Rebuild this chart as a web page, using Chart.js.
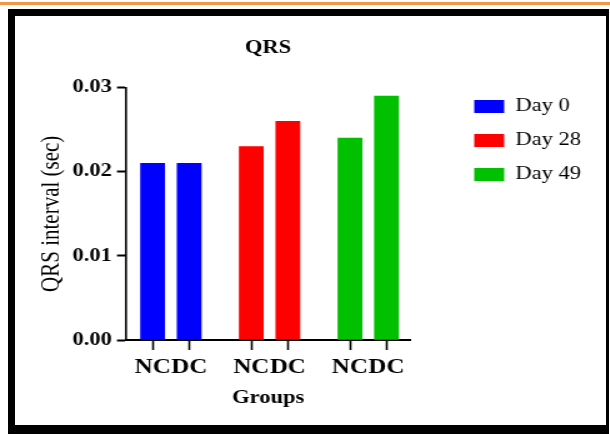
<!DOCTYPE html>
<html>
<head>
<meta charset="utf-8">
<script src="https://cdn.jsdelivr.net/npm/chart.js@4"></script>
<style>
  body { margin: 0; background: #fff; width: 610px; height: 434px; overflow: hidden; position: relative; }
  #topline { position: absolute; left: 0; top: 2px; width: 610px; height: 3px; background: #f39447; }
  #frame { position: absolute; left: 8px; top: 9px; width: 591px; height: 409px; border-style: solid; border-color: #000; border-width: 7px 3px 9px 7px; background: #fff; }
  /* the source figure is stretched sideways, so the chart is drawn narrower and scaled */
  #stretch { position: absolute; left: 0; top: 0; width: 473px; height: 409px; transform: scaleX(1.2495); transform-origin: 0 0; }
</style>
</head>
<body>
<div id="topline"></div>
<div id="frame"><div id="stretch"><canvas id="qrsChart"></canvas></div></div>
<script>
// Data
const groupLabels = ["NC", "DC"];
const dayLabels = ["Day 0", "Day 28", "Day 49"];
const day0Values = [0.021, 0.021];
const day28Values = [0.023, 0.026];
const day49Values = [0.024, 0.029];
const yTicks = [0, 0.01, 0.02, 0.03];

const dayColors = ["#0000ff", "#ff0000", "#00c000"];
const GROUP_STEP = 2.7; // distance between day groups, in bar slots
const serif = "'Liberation Serif', 'Times New Roman', serif";

const seriesValues = [day0Values, day28Values, day49Values];
const datasets = dayLabels.map((label, d) => ({
  label: label,
  data: seriesValues[d].map((v, g) => ({ x: d * GROUP_STEP + g, y: v })),
  backgroundColor: dayColors[d],
  borderWidth: 0,
}));
const tickPositions = datasets.flatMap((ds) => ds.data.map((p) => p.x));

new Chart(document.getElementById("qrsChart"), {
  type: "bar",
  data: { datasets: datasets },
  options: {
    responsive: true,
    maintainAspectRatio: false,
    animation: false,
    layout: { padding: { top: 0, right: 10, bottom: 0, left: 0 } },
    datasets: { bar: { grouped: false, barThickness: 19.2 } },
    plugins: {
      title: {
        display: true,
        text: "QRS",
        fullSize: false,
        color: "#000",
        font: { family: serif, size: 18, weight: "bold" },
        padding: { top: 22, bottom: 28 },
      },
      legend: {
        position: "right",
        align: "start",
        title: { display: true, text: "", padding: { top: 0, bottom: 51 } },
        labels: {
          boxWidth: 24,
          boxHeight: 13,
          padding: 16,
          color: "#000",
          font: { family: serif, size: 18 },
        },
      },
      tooltip: { enabled: false },
    },
    scales: {
      x: {
        type: "linear",
        min: -0.73,
        max: 7.05,
        offset: false,
        afterBuildTicks: (s) => {
          s.ticks = tickPositions.map((v) => ({ value: v }));
        },
        afterFit: (s) => {
          s.height = 85;
        },
        border: { display: true, color: "#000", width: 2 },
        grid: {
          display: true,
          offset: false,
          drawOnChartArea: false,
          drawTicks: true,
          tickLength: 10,
          tickWidth: 1.6,
          tickColor: "#000",
        },
        ticks: {
          autoSkip: false,
          maxRotation: 0,
          padding: 6,
          color: "#000",
          font: { family: serif, size: 20, weight: "bold" },
          callback: (v, i) => groupLabels[i % groupLabels.length],
        },
        title: {
          display: true,
          text: "Groups",
          color: "#000",
          font: { family: serif, size: 18, weight: "bold" },
          padding: { top: 0, bottom: 16 },
        },
      },
      y: {
        min: 0,
        max: 0.03,
        afterBuildTicks: (s) => {
          s.ticks = yTicks.map((v) => ({ value: v }));
        },
        afterFit: (s) => {
          s.width = 88.8;
        },
        border: { display: true, color: "#000", width: 1.6 },
        grid: {
          drawOnChartArea: false,
          drawTicks: true,
          tickLength: 7.2,
          tickWidth: 2,
          tickColor: "#000",
        },
        ticks: {
          padding: 4.2,
          color: "#000",
          font: { family: serif, size: 18, weight: "bold" },
          callback: (v) => Number(v).toFixed(2),
        },
        title: {
          display: true,
          text: "QRS interval (sec)",
          color: "#000",
          font: { family: serif, size: 21 },
          padding: { top: 17, bottom: 0 },
        },
      },
      // hidden right-hand axis that only keeps the gap before the legend
      y2: {
        axis: "y",
        position: "right",
        display: false,
        afterFit: (s) => {
          s.width = 35.2;
        },
      },
    },
  },
});
</script>
</body>
</html>
